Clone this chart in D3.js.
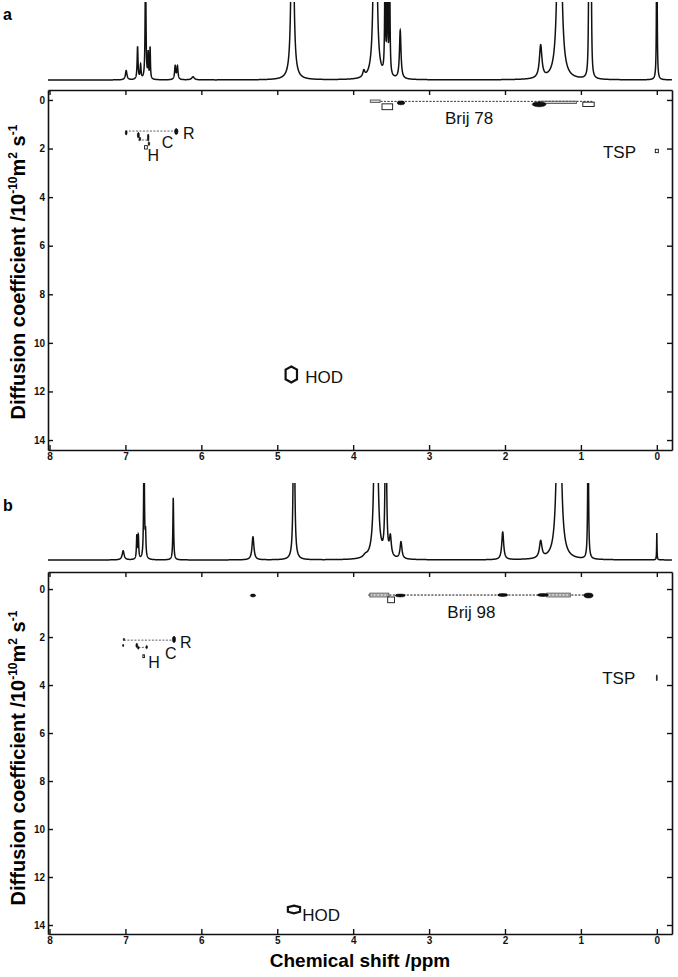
<!DOCTYPE html>
<html>
<head>
<meta charset="utf-8">
<script src="https://cdn.jsdelivr.net/npm/d3@7"></script>
<style>
  body { margin: 0; background: #fff; }
  svg { display: block; }
</style>
</head>
<body>
<div id="chart"></div>
<script>
//#region Data
// 1H spectrum peaks: [ppm, relative height (1 = full strip), half width at half height /ppm]
const peaksA = [
  [6.99, 0.12, 0.012], [6.84, 0.42, 0.007], [6.80, 0.18, 0.007],
  [6.735, 1.6, 0.006], [6.70, 0.32, 0.005], [6.675, 0.4, 0.005],
  [6.345, 0.17, 0.009], [6.315, 0.17, 0.009], [6.11, 0.04, 0.02],
  [4.80, 4.0, 0.014], [3.86, 0.08, 0.015], [3.71, 8.0, 0.012],
  [3.58, 1.5, 0.006], [3.55, 1.5, 0.006], [3.52, 1.5, 0.006],
  [3.38, 0.62, 0.012], [1.53, 0.42, 0.02], [1.283, 5.0, 0.02],
  [0.895, 1.5, 0.006], [0.88, 1.5, 0.006], [0.865, 1.5, 0.006],
  [0.0, 3.0, 0.004]
];
const peaksB = [
  [7.03, 0.12, 0.015], [6.85, 0.3, 0.006], [6.83, 0.3, 0.006],
  [6.755, 1.6, 0.006], [6.735, 0.3, 0.006], [6.37, 0.8, 0.006],
  [5.32, 0.3, 0.015], [4.78, 3.0, 0.009], [3.84, 0.03, 0.03],
  [3.70, 8.0, 0.012], [3.57, 3.0, 0.008], [3.51, 0.25, 0.015],
  [3.37, 0.22, 0.015], [2.03, 0.36, 0.015], [1.53, 0.22, 0.02],
  [1.29, 5.0, 0.02], [0.905, 2.0, 0.006], [0.0, 0.35, 0.003]
];

// DOSY contours: [ppm, D /1e-10 m2 s-1, half span ppm, half span D]
const darkA = [
  [6.99, 1.35, 0.012, 0.09], [6.83, 1.45, 0.013, 0.12], [6.81, 1.6, 0.01, 0.08],
  [6.70, 1.55, 0.01, 0.15], [6.69, 1.8, 0.01, 0.08], [6.33, 1.3, 0.022, 0.12],
  [3.37, 0.12, 0.05, 0.08], [1.55, 0.18, 0.09, 0.1]
];
const openA = [
  [6.73, 1.95, 0.018, 0.07], [3.55, 0.28, 0.07, 0.12], [0.90, 0.18, 0.075, 0.09],
  [0.0, 2.1, 0.02, 0.07]
];
const greyA = [[3.71, 0.05, 0.065, 0.05], [1.30, 0.1, 0.24, 0.05]];
const hodA = [[4.815, 11.3, 0.075, 0.33]];
const dashA = [[7.0, 6.33, 1.28], [6.83, 6.69, 1.65], [3.64, 0.85, 0.06]];

const darkB = [
  [5.32, 0.27, 0.035, 0.06], [7.02, 2.1, 0.008, 0.05], [7.03, 2.35, 0.008, 0.05],
  [6.85, 2.35, 0.012, 0.09], [6.83, 2.45, 0.01, 0.06], [6.72, 2.42, 0.01, 0.07],
  [6.36, 2.1, 0.02, 0.13], [3.38, 0.27, 0.065, 0.06], [2.03, 0.25, 0.065, 0.06],
  [1.5, 0.25, 0.07, 0.06], [0.9, 0.27, 0.06, 0.1], [0.0, 3.7, 0.006, 0.13]
];
const openB = [[6.76, 2.8, 0.01, 0.06], [3.5, 0.45, 0.045, 0.12]];
const greyB = [[3.655, 0.25, 0.125, 0.08], [1.295, 0.25, 0.155, 0.08]];
const hodB = [[4.78, 13.35, 0.08, 0.16]];
const dashB = [[7.02, 6.36, 2.13], [6.83, 6.72, 2.43], [3.8, 0.85, 0.25]];

// Annotations: [text, ppm, D] (baseline start)
const labelsA = [
  ["R", 6.24, 1.6, 16], ["C", 6.52, 1.98, 16], ["H", 6.71, 2.5, 16],
  ["Brij 78", 2.79, 0.99, 17], ["TSP", 0.71, 2.39, 17], ["HOD", 4.63, 11.65, 17]
];
const labelsB = [
  ["R", 6.28, 2.46, 16], ["C", 6.48, 2.92, 16], ["H", 6.70, 3.29, 16],
  ["Brij 98", 2.76, 1.21, 17], ["TSP", 0.72, 3.96, 17], ["HOD", 4.67, 13.83, 17]
];

const xTicks = [8, 7, 6, 5, 4, 3, 2, 1, 0];
const yTicks = [0, 2, 4, 6, 8, 10, 12, 14];
//#endregion

//#region Setup
const width = 678, height = 977;
const left = 48, right = 672;
const svg = d3.select("#chart").append("svg")
  .attr("width", width).attr("height", height)
  .style("font-family", "'Liberation Sans', Arial, sans-serif");

const scaleX = d3.scaleLinear().domain([8.02, -0.2]).range([left, right]);

const panels = [
  { id: "a", letterY: 20, specBase: 80, specTop: 2, boxTop: 90, boxBottom: 450,
    dDomain: [-0.41, 14.41], peaks: peaksA, dark: darkA, open: openA, grey: greyA,
    hod: hodA, dash: dashA, labels: labelsA, yLabelY: 272 },
  { id: "b", letterY: 511, specBase: 560, specTop: 483, boxTop: 572, boxBottom: 934,
    dDomain: [-0.71, 14.375], peaks: peaksB, dark: darkB, open: openB, grey: greyB,
    hod: hodB, dash: dashB, labels: labelsB, yLabelY: 758 }
];
//#endregion

function drawPanel(p) {
  const g = svg.append("g").attr("id", "panel-" + p.id);

  //#region Spectrum strip
  const scaleI = d3.scaleLinear().domain([0, 1]).range([p.specBase, p.specTop]);
  const samples = d3.range(8.02, -0.2, -0.0008);
  const spectrum = samples.map(s => [
    s,
    d3.sum(p.peaks, ([c, h, w]) => h * (w * w) / ((s - c) * (s - c) + w * w))
  ]);
  g.append("clipPath").attr("id", "clip-" + p.id)
    .append("rect").attr("x", left - 2).attr("y", p.specTop)
    .attr("width", right - left + 4).attr("height", p.specBase - p.specTop + 5);
  g.append("path")
    .datum(spectrum)
    .attr("clip-path", `url(#clip-${p.id})`)
    .attr("fill", "none").attr("stroke", "#111").attr("stroke-width", 1.5)
    .attr("d", d3.line().x(d => scaleX(d[0])).y(d => scaleI(d[1])));
  //#endregion

  //#region DOSY box
  const scaleY = d3.scaleLinear().domain(p.dDomain).range([p.boxTop, p.boxBottom]);

  g.append("g").attr("transform", `translate(0,${p.boxBottom})`)
    .call(d3.axisBottom(scaleX).tickValues(xTicks).tickSize(-5).tickSizeOuter(0).tickPadding(3)
      .tickFormat(d3.format("d")))
    .call(styleAxis);
  g.append("g").attr("transform", `translate(0,${p.boxTop})`)
    .call(d3.axisTop(scaleX).tickValues(xTicks).tickSize(-5).tickSizeOuter(0).tickFormat(""))
    .call(styleAxis);
  g.append("g").attr("transform", `translate(${left},0)`)
    .call(d3.axisLeft(scaleY).tickValues(yTicks).tickSize(-5).tickSizeOuter(0).tickPadding(3))
    .call(styleAxis);
  g.append("g").attr("transform", `translate(${right},0)`)
    .call(d3.axisRight(scaleY).tickValues(yTicks).tickSize(-5).tickSizeOuter(0).tickFormat(""))
    .call(styleAxis);

  // dashed connectors
  g.selectAll(".dash").data(p.dash).enter().append("line")
    .attr("x1", d => scaleX(d[0])).attr("x2", d => scaleX(d[1]))
    .attr("y1", d => scaleY(d[2])).attr("y2", d => scaleY(d[2]))
    .attr("stroke", "#333").attr("stroke-width", 0.8).attr("stroke-dasharray", "2,1.5");

  const rectOf = sel => sel
    .attr("x", d => scaleX(d[0] + d[2]))
    .attr("y", d => scaleY(d[1] - d[3]))
    .attr("width", d => scaleX(d[0] - d[2]) - scaleX(d[0] + d[2]))
    .attr("height", d => scaleY(d[1] + d[3]) - scaleY(d[1] - d[3]));

  g.selectAll(".grey").data(p.grey).enter().append("rect")
    .call(rectOf).attr("fill", "#d4d4d4").attr("stroke", "#444").attr("stroke-width", 0.8);
  g.selectAll(".dash2").data(p.dash.slice(-1)).enter().append("line")
    .attr("x1", d => scaleX(d[0])).attr("x2", d => scaleX(d[1]))
    .attr("y1", d => scaleY(d[2])).attr("y2", d => scaleY(d[2]))
    .attr("stroke", "#444").attr("stroke-width", 0.7).attr("stroke-dasharray", "2,1.5");
  g.selectAll(".open").data(p.open).enter().append("rect")
    .call(rectOf).attr("fill", "#fff").attr("stroke", "#111").attr("stroke-width", 0.9);
  g.selectAll(".dark").data(p.dark).enter().append("ellipse")
    .attr("cx", d => scaleX(d[0])).attr("cy", d => scaleY(d[1]))
    .attr("rx", d => scaleX(d[0] - d[2]) - scaleX(d[0]))
    .attr("ry", d => scaleY(d[1] + d[3]) - scaleY(d[1]))
    .attr("fill", "#111").attr("stroke", "#000").attr("stroke-width", 0.6);

  const hexPts = [[0, -1], [1, -0.6], [1, 0.6], [0, 1], [-1, 0.6], [-1, -0.6]];
  g.selectAll(".hod").data(p.hod).enter().append("polygon")
    .attr("points", d => hexPts.map(([u, v]) =>
      [scaleX(d[0] - u * d[2]), scaleY(d[1] + v * d[3])].join(",")).join(" "))
    .attr("fill", "#fff").attr("stroke", "#111").attr("stroke-width", 2.2);

  g.selectAll(".label").data(p.labels).enter().append("text")
    .attr("x", d => scaleX(d[1])).attr("y", d => scaleY(d[2]))
    .style("font-size", d => d[3] + "px").attr("fill", "#111")
    .text(d => d[0]);
  //#endregion

  //#region Panel letter and y title
  g.append("text").attr("x", 3).attr("y", p.letterY)
    .style("font-size", "16px").style("font-weight", "bold").text(p.id);

  const yt = g.append("text")
    .attr("transform", `translate(25,${p.yLabelY}) rotate(-90)`)
    .attr("text-anchor", "middle")
    .style("font-size", "20px").style("font-weight", "bold");
  yt.append("tspan").text("Diffusion coefficient /10");
  yt.append("tspan").attr("dy", -8).style("font-size", "12px").text("-10");
  yt.append("tspan").attr("dy", 8).text("m");
  yt.append("tspan").attr("dy", -8).style("font-size", "12px").text("2");
  yt.append("tspan").attr("dy", 8).text(" s");
  yt.append("tspan").attr("dy", -8).style("font-size", "12px").text("-1");
  //#endregion
}

function styleAxis(sel) {
  sel.select(".domain").attr("stroke", "#111").attr("stroke-width", 1.6);
  sel.selectAll(".tick line").attr("stroke", "#111").attr("stroke-width", 1.4);
  sel.selectAll(".tick text")
    .attr("fill", "#111")
    .style("font-family", "'Liberation Sans Narrow', 'Arial Narrow', sans-serif")
    .style("font-weight", "bold")
    .style("font-size", "10px");
}

panels.forEach(drawPanel);

svg.append("text")
  .attr("x", 360).attr("y", 967)
  .attr("text-anchor", "middle")
  .style("font-size", "19px").style("font-weight", "bold")
  .text("Chemical shift /ppm");
</script>
</body>
</html>
